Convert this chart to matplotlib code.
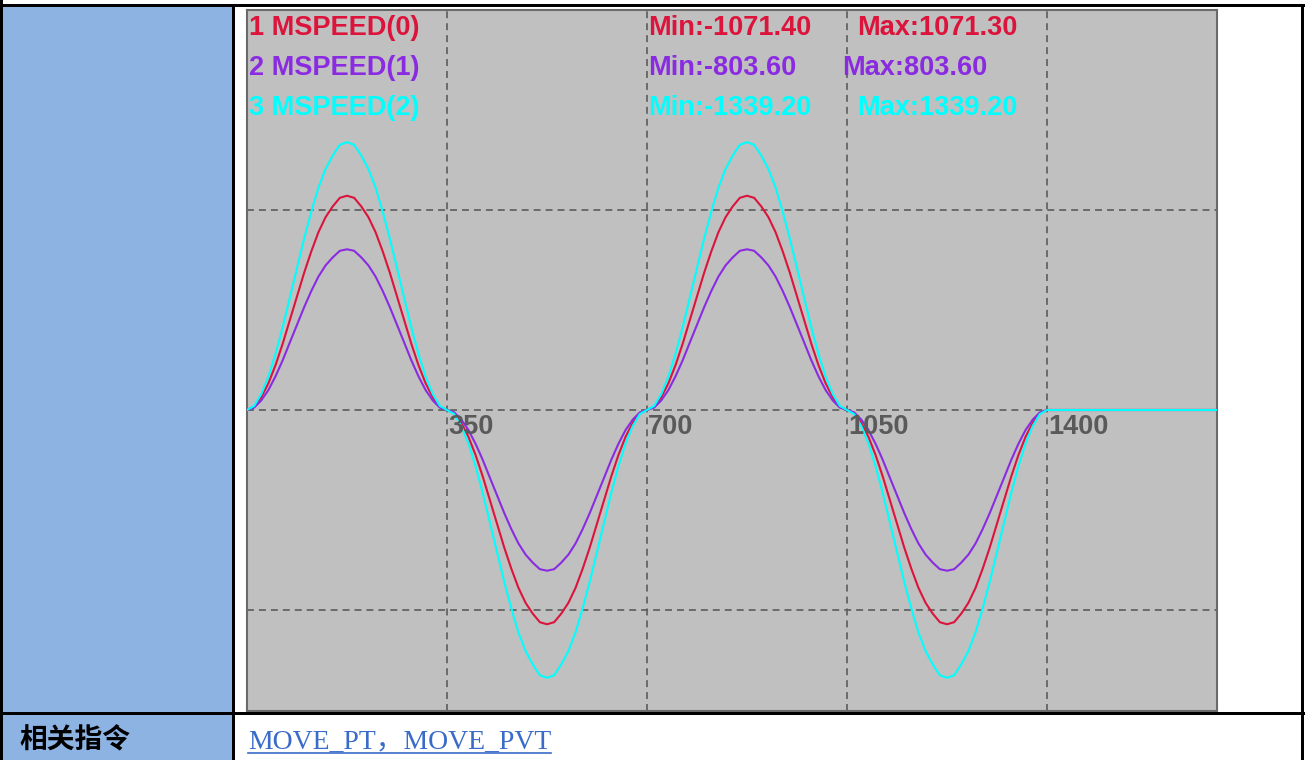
import matplotlib
matplotlib.use("Agg")
import matplotlib.pyplot as plt
from matplotlib.patches import Rectangle
from matplotlib.lines import Line2D

plt.rcParams['font.family'] = ['Liberation Sans', 'Noto Sans CJK SC', 'DejaVu Sans']
plt.rcParams['lines.scale_dashes'] = False

# sample positions (units, every 12.5 up to 1400) and speeds
pos = [i * 12.5 for i in range(113)] + [1700]

mspeed0 = [
    0, 16, 64, 134, 225, 332, 450, 568, 686, 793, 889, 964, 1018, 1061,
    1071.3, 1061, 1018, 964, 889, 793, 686, 568, 450, 332, 225, 134, 64, 16,
    0, -16, -64, -134, -225, -332, -450, -568, -686, -793, -889, -964, -1018, -1061,
    -1071.4, -1061, -1018, -964, -889, -793, -686, -568, -450, -332, -225, -134, -64, -16,
    0, 16, 64, 134, 225, 332, 450, 568, 686, 793, 889, 964, 1018, 1061,
    1071.3, 1061, 1018, 964, 889, 793, 686, 568, 450, 332, 225, 134, 64, 16,
    0, -16, -64, -134, -225, -332, -450, -568, -686, -793, -889, -964, -1018, -1061,
    -1071.4, -1061, -1018, -964, -889, -793, -686, -568, -450, -332, -225, -134, -64, -16,
    0, 0]
mspeed1 = [
    0, 12, 48, 100, 169, 249, 338, 426, 514, 595, 667, 723, 763, 796,
    803.6, 796, 763, 723, 667, 595, 514, 426, 338, 249, 169, 100, 48, 12,
    0, -12, -48, -100, -169, -249, -338, -426, -514, -595, -667, -723, -763, -796,
    -803.6, -796, -763, -723, -667, -595, -514, -426, -338, -249, -169, -100, -48, -12,
    0, 12, 48, 100, 169, 249, 338, 426, 514, 595, 667, 723, 763, 796,
    803.6, 796, 763, 723, 667, 595, 514, 426, 338, 249, 169, 100, 48, 12,
    0, -12, -48, -100, -169, -249, -338, -426, -514, -595, -667, -723, -763, -796,
    -803.6, -796, -763, -723, -667, -595, -514, -426, -338, -249, -169, -100, -48, -12,
    0, 0]
mspeed2 = [
    0, 20, 80, 167, 281, 415, 562, 710, 857, 991, 1112, 1205, 1272, 1326,
    1339.2, 1326, 1272, 1205, 1112, 991, 857, 710, 562, 415, 281, 167, 80, 20,
    0, -20, -80, -167, -281, -415, -562, -710, -857, -991, -1112, -1205, -1272, -1326,
    -1339.2, -1326, -1272, -1205, -1112, -991, -857, -710, -562, -415, -281, -167, -80, -20,
    0, 20, 80, 167, 281, 415, 562, 710, 857, 991, 1112, 1205, 1272, 1326,
    1339.2, 1326, 1272, 1205, 1112, 991, 857, 710, 562, 415, 281, 167, 80, 20,
    0, -20, -80, -167, -281, -415, -562, -710, -857, -991, -1112, -1205, -1272, -1326,
    -1339.2, -1326, -1272, -1205, -1112, -991, -857, -710, -562, -415, -281, -167, -80, -20,
    0, 0]

names = ['1 MSPEED(0)', '2 MSPEED(1)', '3 MSPEED(2)']
series = [mspeed0, mspeed1, mspeed2]
colors = ['#DC143C', '#8A2BE2', '#00FFFF']
xticks = [350, 700, 1050, 1400]
yticks = [-1000, 0, 1000]

W, H = 1305, 760
fig = plt.figure(figsize=(W / 100, H / 100), dpi=100)
fig.patch.set_facecolor('white')


def box(x0, y0, x1, y1, color):
    fig.patches.append(Rectangle((x0 / W, 1 - y1 / H), (x1 - x0) / W, (y1 - y0) / H,
                                 transform=fig.transFigure, facecolor=color,
                                 edgecolor='none', zorder=0))


# table cells and borders
box(3, 7, 232, 712, '#8DB3E2')
box(3, 715, 232, 760, '#8DB3E2')
box(0, 0, 3, 760, 'black')
box(0, 4, W, 7, 'black')
box(232, 4, 235, 760, 'black')
box(0, 712, W, 715, 'black')
box(1301, 4, 1304, 760, 'black')

# chart
ax = fig.add_axes([247 / W, (H - 711) / H, (1217 - 247) / W, (711 - 10) / H])
ax.set_facecolor('#C0C0C0')
ax.set_xlim(0, 1697.5)
ax.set_ylim(-1505, 2000)
ax.set_xticks(xticks)
ax.set_yticks(yticks)
ax.grid(True, color='#5c5c5c', linestyle=(0, (5, 3.6)), linewidth=1.2)
ax.tick_params(length=0, labelleft=False, labelbottom=False)
for s in ax.spines.values():
    s.set_color('#6a6a6a')
    s.set_linewidth(1.5)

for vals, c in zip(series, colors):
    ax.plot(pos, vals, color=c, linewidth=1.5, zorder=3)

for t in xticks:
    ax.annotate(str(t), xy=(t, 0), xytext=(1, -24), textcoords='offset pixels',
                color='#5a5a5a', fontsize=19.5, fontweight='bold', va='baseline')

# legend / statistics
rows = [35, 75, 115]
max_x = [857, 842, 857]
for name, vals, c, yb, mx in zip(names, series, colors, rows, max_x):
    fig.text(249 / W, 1 - yb / H, name, color=c, fontsize=19.5, fontweight='bold', va='baseline')
    fig.text(648 / W, 1 - yb / H, f"Min:{min(vals):.2f}", color=c, fontsize=19.5,
             fontweight='bold', va='baseline')
    fig.text(mx / W, 1 - yb / H, f"Max:{max(vals):.2f}", color=c, fontsize=19.5,
             fontweight='bold', va='baseline')

# bottom row
fig.text(19 / W, 1 - 740 / H, '相关指令', color='black', fontsize=20,
         fontweight='bold', va='center', family=['Noto Sans CJK SC'])
link = fig.text(248 / W, 1 - 749 / H, 'MOVE_PT，MOVE_PVT', color='#3A6BC9', fontsize=20,
                va='baseline', family=['Liberation Serif', 'Noto Sans CJK SC'])
fig.canvas.draw()
bb = link.get_window_extent()
fig.add_artist(Line2D([bb.x0 / W, bb.x1 / W], [1 - 753 / H, 1 - 753 / H],
                      transform=fig.transFigure, color='#3A6BC9', linewidth=1.2))

fig.savefig('out.png', dpi=100)
